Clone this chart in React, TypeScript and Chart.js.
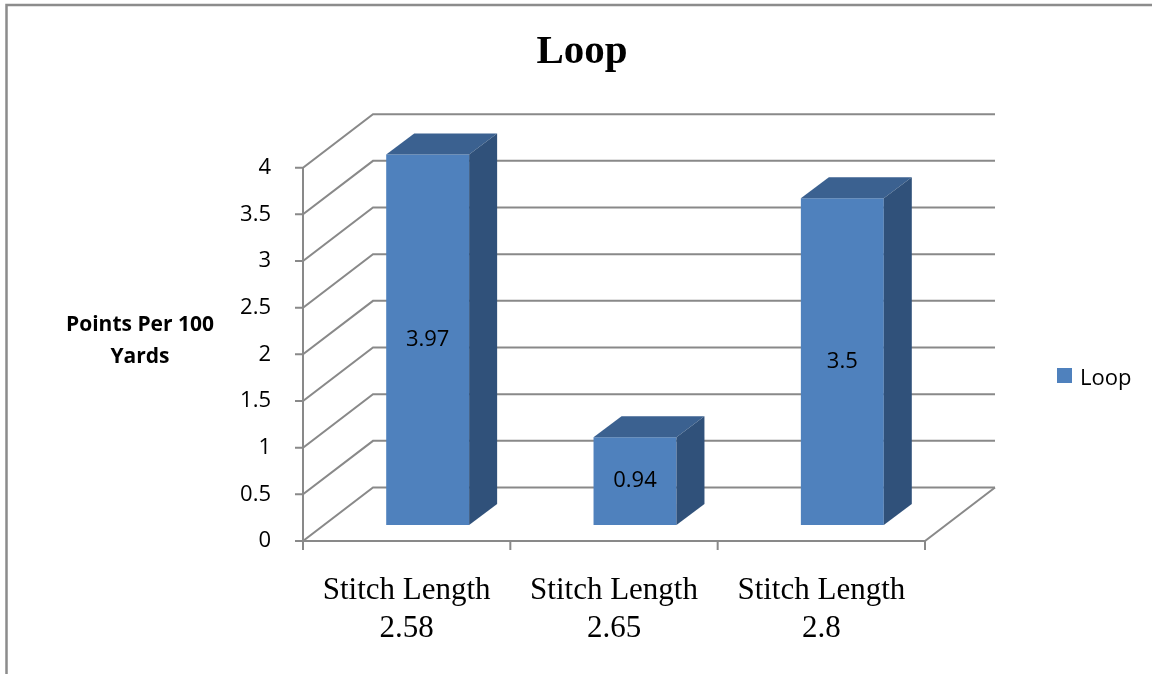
import { useEffect, useRef } from 'react';
import { Chart, registerables } from 'chart.js';

Chart.register(...registerables);

// ---- data ----
const categories: string[][] = [
  ['Stitch Length', '2.58'],
  ['Stitch Length', '2.65'],
  ['Stitch Length', '2.8'],
];
const seriesName = 'Loop';
const loopValues = [3.97, 0.94, 3.5];
const yTicks = [0, 0.5, 1, 1.5, 2, 2.5, 3, 3.5, 4];
const chartTitle = 'Loop';
const yAxisTitle = ['Points Per 100', 'Yards'];

// ---- styling ----
const W = 1152;
const H = 674;
const FRONT_COLOR = '#4F81BD';
const TOP_COLOR = '#3B6190';
const SIDE_COLOR = '#30517A';
const GRID_COLOR = '#898989';
const SANS = "'Open Sans', 'Noto Sans', sans-serif";
const SERIF = "'Liberation Serif', 'DejaVu Serif', serif";

// 3D projection offsets (pixels) relative to the plane the bars' front faces sit on
const FRONT = { dx: -21, dy: 16 }; // front edge of the floor / front axis
const WALL = { dx: 70, dy: -53.5 }; // full depth from front edge to back wall
const BAR_DEPTH = { dx: 28, dy: -21 }; // depth of each bar

const threeDPlugin = {
  id: 'threeD',
  beforeDraw(chart: Chart) {
    const { ctx } = chart;
    ctx.save();
    ctx.fillStyle = '#ffffff';
    ctx.fillRect(0, 0, W, H);
    // outer frame (left and top edges)
    ctx.strokeStyle = '#8c8c8c';
    ctx.lineWidth = 2.5;
    ctx.beginPath();
    ctx.moveTo(6.5, H);
    ctx.lineTo(6.5, 5);
    ctx.lineTo(W, 5);
    ctx.stroke();
    ctx.restore();
  },
  beforeDatasetsDraw(chart: Chart) {
    const { ctx, chartArea: ca } = chart;
    const x = chart.scales.x;
    const y = chart.scales.y;
    const n = categories.length;
    const fx0 = ca.left + FRONT.dx;
    const fx1 = ca.right + FRONT.dx;
    const bx0 = fx0 + WALL.dx;
    const bx1 = fx1 + WALL.dx;
    ctx.save();
    ctx.strokeStyle = GRID_COLOR;
    ctx.lineWidth = 2;
    ctx.lineJoin = 'miter';
    // side wall diagonals + back wall gridlines + value ticks
    for (const v of yTicks) {
      const fy = y.getPixelForValue(v) + FRONT.dy;
      const by = fy + WALL.dy;
      ctx.beginPath();
      ctx.moveTo(fx0 - 8, fy);
      ctx.lineTo(fx0, fy);
      ctx.lineTo(bx0, by);
      ctx.lineTo(bx1, by);
      ctx.stroke();
    }
    const f0 = y.getPixelForValue(yTicks[0]) + FRONT.dy;
    const fTop = y.getPixelForValue(yTicks[yTicks.length - 1]) + FRONT.dy;
    // front value axis
    ctx.beginPath();
    ctx.moveTo(fx0, fTop);
    ctx.lineTo(fx0, f0);
    ctx.stroke();
    // floor: front edge and right edge
    ctx.beginPath();
    ctx.moveTo(fx0, f0);
    ctx.lineTo(fx1, f0);
    ctx.lineTo(bx1, f0 + WALL.dy);
    ctx.stroke();
    // category ticks
    for (let i = 0; i <= n; i++) {
      const xb = x.getPixelForValue(i - 0.5) + FRONT.dx;
      ctx.beginPath();
      ctx.moveTo(xb, f0);
      ctx.lineTo(xb, f0 + 9);
      ctx.stroke();
    }
    ctx.restore();
  },
  afterDatasetsDraw(chart: Chart) {
    const { ctx } = chart;
    const meta = chart.getDatasetMeta(0);
    ctx.save();
    meta.data.forEach((bar: any, i: number) => {
      const { x: cx, y: top, base, width } = bar.getProps(['x', 'y', 'base', 'width'], true);
      const x1 = cx - width / 2;
      const x2 = cx + width / 2;
      const { dx, dy } = BAR_DEPTH;
      // top face
      ctx.fillStyle = TOP_COLOR;
      ctx.beginPath();
      ctx.moveTo(x1, top);
      ctx.lineTo(x1 + dx, top + dy);
      ctx.lineTo(x2 + dx, top + dy);
      ctx.lineTo(x2, top);
      ctx.closePath();
      ctx.fill();
      // right side face
      ctx.fillStyle = SIDE_COLOR;
      ctx.beginPath();
      ctx.moveTo(x2, top);
      ctx.lineTo(x2 + dx, top + dy);
      ctx.lineTo(x2 + dx, base + dy);
      ctx.lineTo(x2, base);
      ctx.closePath();
      ctx.fill();
      // value label in the middle of the front face
      ctx.fillStyle = '#000000';
      ctx.font = `22px ${SANS}`;
      ctx.textAlign = 'center';
      ctx.textBaseline = 'middle';
      ctx.fillText(String(loopValues[i]), cx, (top + base) / 2);
    });
    ctx.restore();
  },
  afterDraw(chart: Chart) {
    const { ctx } = chart;
    ctx.save();
    ctx.fillStyle = '#000000';
    // title
    ctx.font = `bold 41px ${SERIF}`;
    ctx.textAlign = 'center';
    ctx.textBaseline = 'alphabetic';
    ctx.fillText(chartTitle, 582, 63);
    // value axis title
    ctx.font = `bold 21px ${SANS}`;
    ctx.fillText(yAxisTitle[0], 140, 331);
    ctx.fillText(yAxisTitle[1], 140, 363);
    // legend
    const ds = chart.data.datasets[0];
    ctx.fillStyle = ds.backgroundColor as string;
    ctx.fillRect(1057, 368, 15, 15);
    ctx.fillStyle = '#000000';
    ctx.font = `22px ${SANS}`;
    ctx.textAlign = 'left';
    ctx.fillText(ds.label as string, 1080, 385);
    ctx.restore();
  },
};

export default function App() {
  const canvasRef = useRef<HTMLCanvasElement | null>(null);

  useEffect(() => {
    const canvas = canvasRef.current;
    if (!canvas) return;
    const chart = new Chart(canvas, {
      type: 'bar',
      data: {
        labels: categories,
        datasets: [
          {
            label: seriesName,
            data: loopValues,
            backgroundColor: FRONT_COLOR,
            borderWidth: 0,
            categoryPercentage: 1,
            barPercentage: 0.4,
          },
        ],
      },
      options: {
        responsive: false,
        animation: false,
        devicePixelRatio: 1,
        layout: { padding: { left: 0, right: 206, top: 151.7, bottom: 0 } },
        plugins: {
          legend: { display: false },
          title: { display: false },
          tooltip: { enabled: false },
        },
        scales: {
          x: {
            grid: { display: false, drawTicks: false },
            border: { display: false },
            afterFit: (scale: any) => {
              scale.height = 149;
            },
            ticks: {
              color: '#000000',
              font: { family: SERIF, size: 31, lineHeight: 1.25 },
              padding: 46,
              labelOffset: FRONT.dx,
              maxRotation: 0,
              minRotation: 0,
              autoSkip: false,
            },
          },
          y: {
            min: yTicks[0],
            max: yTicks[yTicks.length - 1],
            grid: { display: false, drawTicks: false },
            border: { display: false },
            afterFit: (scale: any) => {
              scale.width = 324;
            },
            ticks: {
              stepSize: yTicks[1] - yTicks[0],
              color: '#000000',
              font: { family: SANS, size: 22 },
              padding: 53,
              labelOffset: FRONT.dy,
              callback: (value: any) => String(value),
            },
          },
        },
      },
      plugins: [threeDPlugin],
    });
    return () => chart.destroy();
  }, []);

  return (
    <div style={{ position: 'absolute', left: 0, top: 0, width: W, height: H, background: '#fff' }}>
      <canvas ref={canvasRef} width={W} height={H} style={{ display: 'block', width: W, height: H }} />
    </div>
  );
}
